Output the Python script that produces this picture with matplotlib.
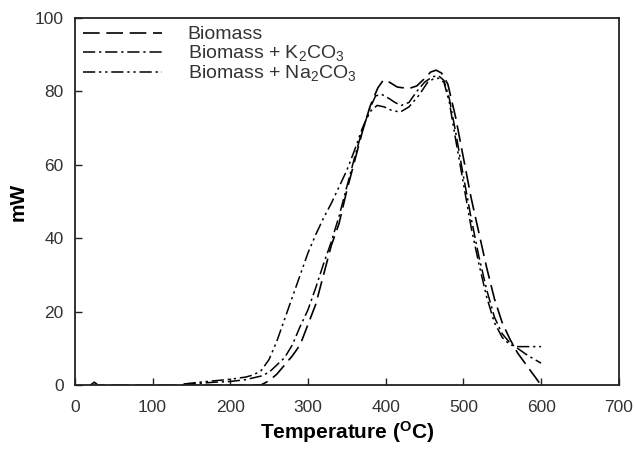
import numpy as np
import matplotlib
matplotlib.use('Agg')
import matplotlib.pyplot as plt

plt.rcParams['font.family'] = ['Liberation Sans', 'DejaVu Sans']
plt.rcParams['mathtext.fontset'] = 'custom'
plt.rcParams['mathtext.rm'] = 'Liberation Sans'
plt.rcParams['mathtext.it'] = 'Liberation Sans:italic'
plt.rcParams['mathtext.bf'] = 'Liberation Sans:bold'

# Biomass (dashed)
t_bio = [20, 25, 30, 130, 150, 180, 200, 220, 230, 240, 250, 260, 270, 280, 290, 300, 310,
         320, 330, 340, 350, 360, 370, 380, 390, 397, 405, 415, 430, 440, 450,
         458, 465, 472, 480, 490, 500, 510, 520, 530, 540, 550, 560, 570, 580, 590, 600]
mw_bio = [0, 0.8, 0, 0, 0, 0, 0, 0, 0, 0.1, 1.2, 3, 5.5, 8, 11, 16.5, 22,
          30, 38, 44, 53, 61, 69, 76, 81, 83.1, 82.5, 81.2, 80.8, 81.5, 83.5,
          85.3, 85.8, 85, 82, 73, 62, 51, 41.5, 32, 23.5, 17, 12.5, 8.7, 5.8, 2.9, 0]

# Biomass + K2CO3 (dash-dot)
t_k = [140, 160, 180, 200, 220, 230, 240, 250, 260, 270, 280, 290, 300, 310,
       320, 330, 340, 350, 360, 370, 380, 387, 395, 405, 412, 420, 430, 440, 450,
       460, 468, 475, 482, 490, 500, 510, 520, 530, 540, 550, 560, 570, 580, 590, 600]
mw_k = [0.2, 0.5, 0.8, 1, 1.5, 2, 2.5, 3.5, 5.5, 7.5, 11, 16, 20.5, 26.5,
        33, 39, 46, 54, 62, 69.5, 75.5, 78.8, 79.2, 78, 77, 76.2, 77, 80, 82.5,
        84, 84.3, 83, 78, 69, 57, 45.5, 35, 26, 18.5, 14, 11.5, 10, 8.5, 7.2, 6]

# Biomass + Na2CO3 (dash-dot-dot)
t_na = [140, 160, 180, 200, 220, 230, 240, 250, 260, 270, 280, 290, 300, 310,
        320, 330, 340, 350, 360, 370, 380, 389, 398, 408, 419, 430, 443, 454,
        462, 468, 475, 482, 490, 500, 510, 520, 530, 540, 550, 560, 570, 580, 590, 600]
mw_na = [0.3, 0.8, 1.2, 1.6, 2.2, 2.8, 4, 7, 12, 18, 24, 30, 36, 41,
         45.5, 49.5, 54, 58.5, 64, 70, 74.5, 76.2, 75.8, 74.8, 74.4, 75.8, 79, 82.5,
         83.5, 83.6, 82.5, 77, 67, 55, 43, 33, 24, 17, 13, 11, 10.5, 10.5, 10.5, 10.5]

fig = plt.figure(figsize=(6.34, 4.51), dpi=100)
ax = fig.add_axes([0.118, 0.146, 0.858, 0.814])

ax.plot(t_bio, mw_bio, color='black', lw=1.2, dashes=(10, 4), label='Biomass')
ax.plot(t_k, mw_k, color='black', lw=1.1, dashes=(8, 2.5, 1.5, 2.5),
        label=r'Biomass + K$_2$CO$_3$')
ax.plot(t_na, mw_na, color='black', lw=1.1, dashes=(8, 2.5, 1.5, 2.5, 1.5, 2.5),
        label=r'Biomass + Na$_2$CO$_3$')

ax.set_xlim(0, 700)
ax.set_ylim(0, 100)
ax.set_xticks(range(0, 701, 100))
ax.set_yticks(range(0, 101, 20))
ax.tick_params(direction='in', length=5, width=1, labelsize=12.5, colors='#222222',
               labelcolor='#333333')
ax.tick_params(axis='x', pad=11)
ax.tick_params(axis='y', pad=8)
for s in ax.spines.values():
    s.set_linewidth(1.3)
    s.set_color('#222222')

ax.set_xlabel(r'Temperature ($^\mathbf{O}$C)', fontsize=15, fontweight='bold', labelpad=3)
ax.set_ylabel('mW', fontsize=15, fontweight='bold', labelpad=5)

leg = ax.legend(loc='upper left', frameon=False, fontsize=14, handlelength=4.1,
                handletextpad=1.3, labelspacing=0.0, borderaxespad=0.2,
                borderpad=0.2)
for txt in leg.get_texts():
    txt.set_color('#333333')

fig.savefig('out.png', dpi=100)
